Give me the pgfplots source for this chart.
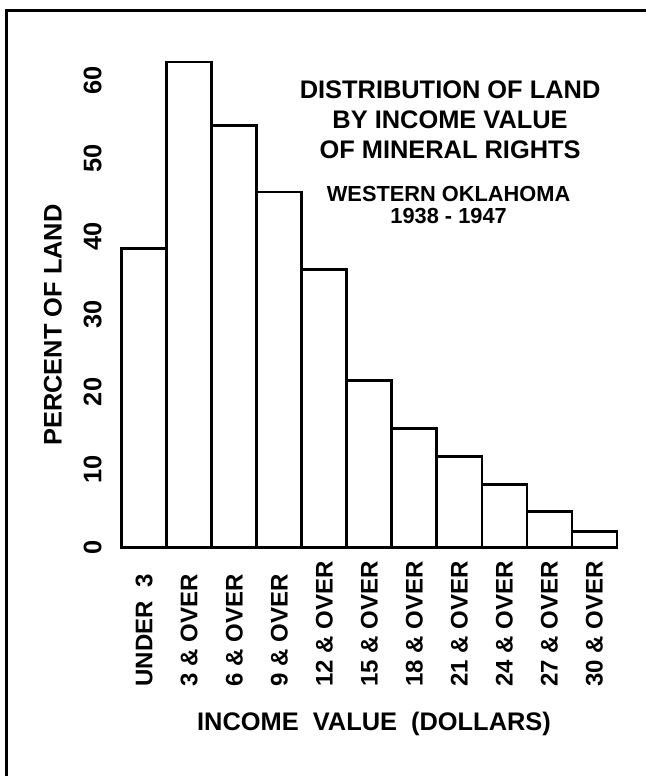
\documentclass[border=0pt]{standalone}
\usepackage{fontspec}
\setmainfont{Liberation Sans}
\usepackage{pgfplots}
\pgfplotsset{compat=1.18}
\newcommand{\lbl}{\fontsize{12.7}{15}\selectfont\bfseries}
\newcommand{\xlbl}{\fontsize{12}{14}\selectfont\bfseries}
\newcommand{\sublbl}{\fontsize{10.9}{13}\selectfont\bfseries}
\begin{document}
\begin{tikzpicture}
\path[use as bounding box] (-60.85pt,-114.25pt) rectangle (262.15pt,273.75pt);
\begin{axis}[
  at={(0pt,0pt)}, anchor=south west,
  scale only axis, width=247.65pt, height=243.1pt,
  xmin=-0.5, xmax=10.5, ymin=0, ymax=62.5,
  clip=false,
  axis line style={draw=none},
  major tick length=0pt,
  xtick=data,
  xticklabels={UNDER\ \ 3, 3 \& OVER, 6 \& OVER, 9 \& OVER, 12 \& OVER, 15 \& OVER, 18 \& OVER, 21 \& OVER, 24 \& OVER, 27 \& OVER, 30 \& OVER},
  xticklabel style={rotate=90, anchor=west, inner sep=0pt, font=\xlbl},
  xticklabel shift=69.75pt,
  ytick={0,10,20,30,40,50,60},
  yticklabel style={rotate=90, anchor=south, inner sep=0pt, font=\lbl},
  yticklabel shift=9.8pt,
  /pgf/number format/assume math mode=true,
  ybar, bar width=1,
]
\addplot[draw=black, fill=white, line width=1.4pt] coordinates {
  (0,38.4) (1,62.4) (2,54.2) (3,45.7) (4,35.7) (5,21.5)
  (6,15.3) (7,11.7) (8,8.1) (9,4.6) (10,2.1)
};
\node[rotate=90, font=\lbl, anchor=center] at (rel axis cs:-0.1387,0.4576) {PERCENT OF LAND};
\node[font=\lbl, anchor=base] at (rel axis cs:0.5094,-0.3754) {INCOME\ \ VALUE\ \ (DOLLARS)};
\node[font=\lbl, anchor=base] at (rel axis cs:0.663,0.924) {DISTRIBUTION OF LAND};
\node[font=\lbl, anchor=base] at (rel axis cs:0.663,0.862) {BY INCOME VALUE};
\node[font=\lbl, anchor=base] at (rel axis cs:0.663,0.8005) {OF MINERAL RIGHTS};
\node[font=\sublbl, anchor=base] at (rel axis cs:0.660,0.711) {WESTERN OKLAHOMA};
\node[font=\sublbl, anchor=base] at (rel axis cs:0.660,0.667) {1938 - 1947};
\end{axis}
\draw[line width=1.5pt] (262.15pt,268.5pt) -- (-57.35pt,268.5pt) -- (-57.35pt,-114.25pt);
\end{tikzpicture}
\end{document}
